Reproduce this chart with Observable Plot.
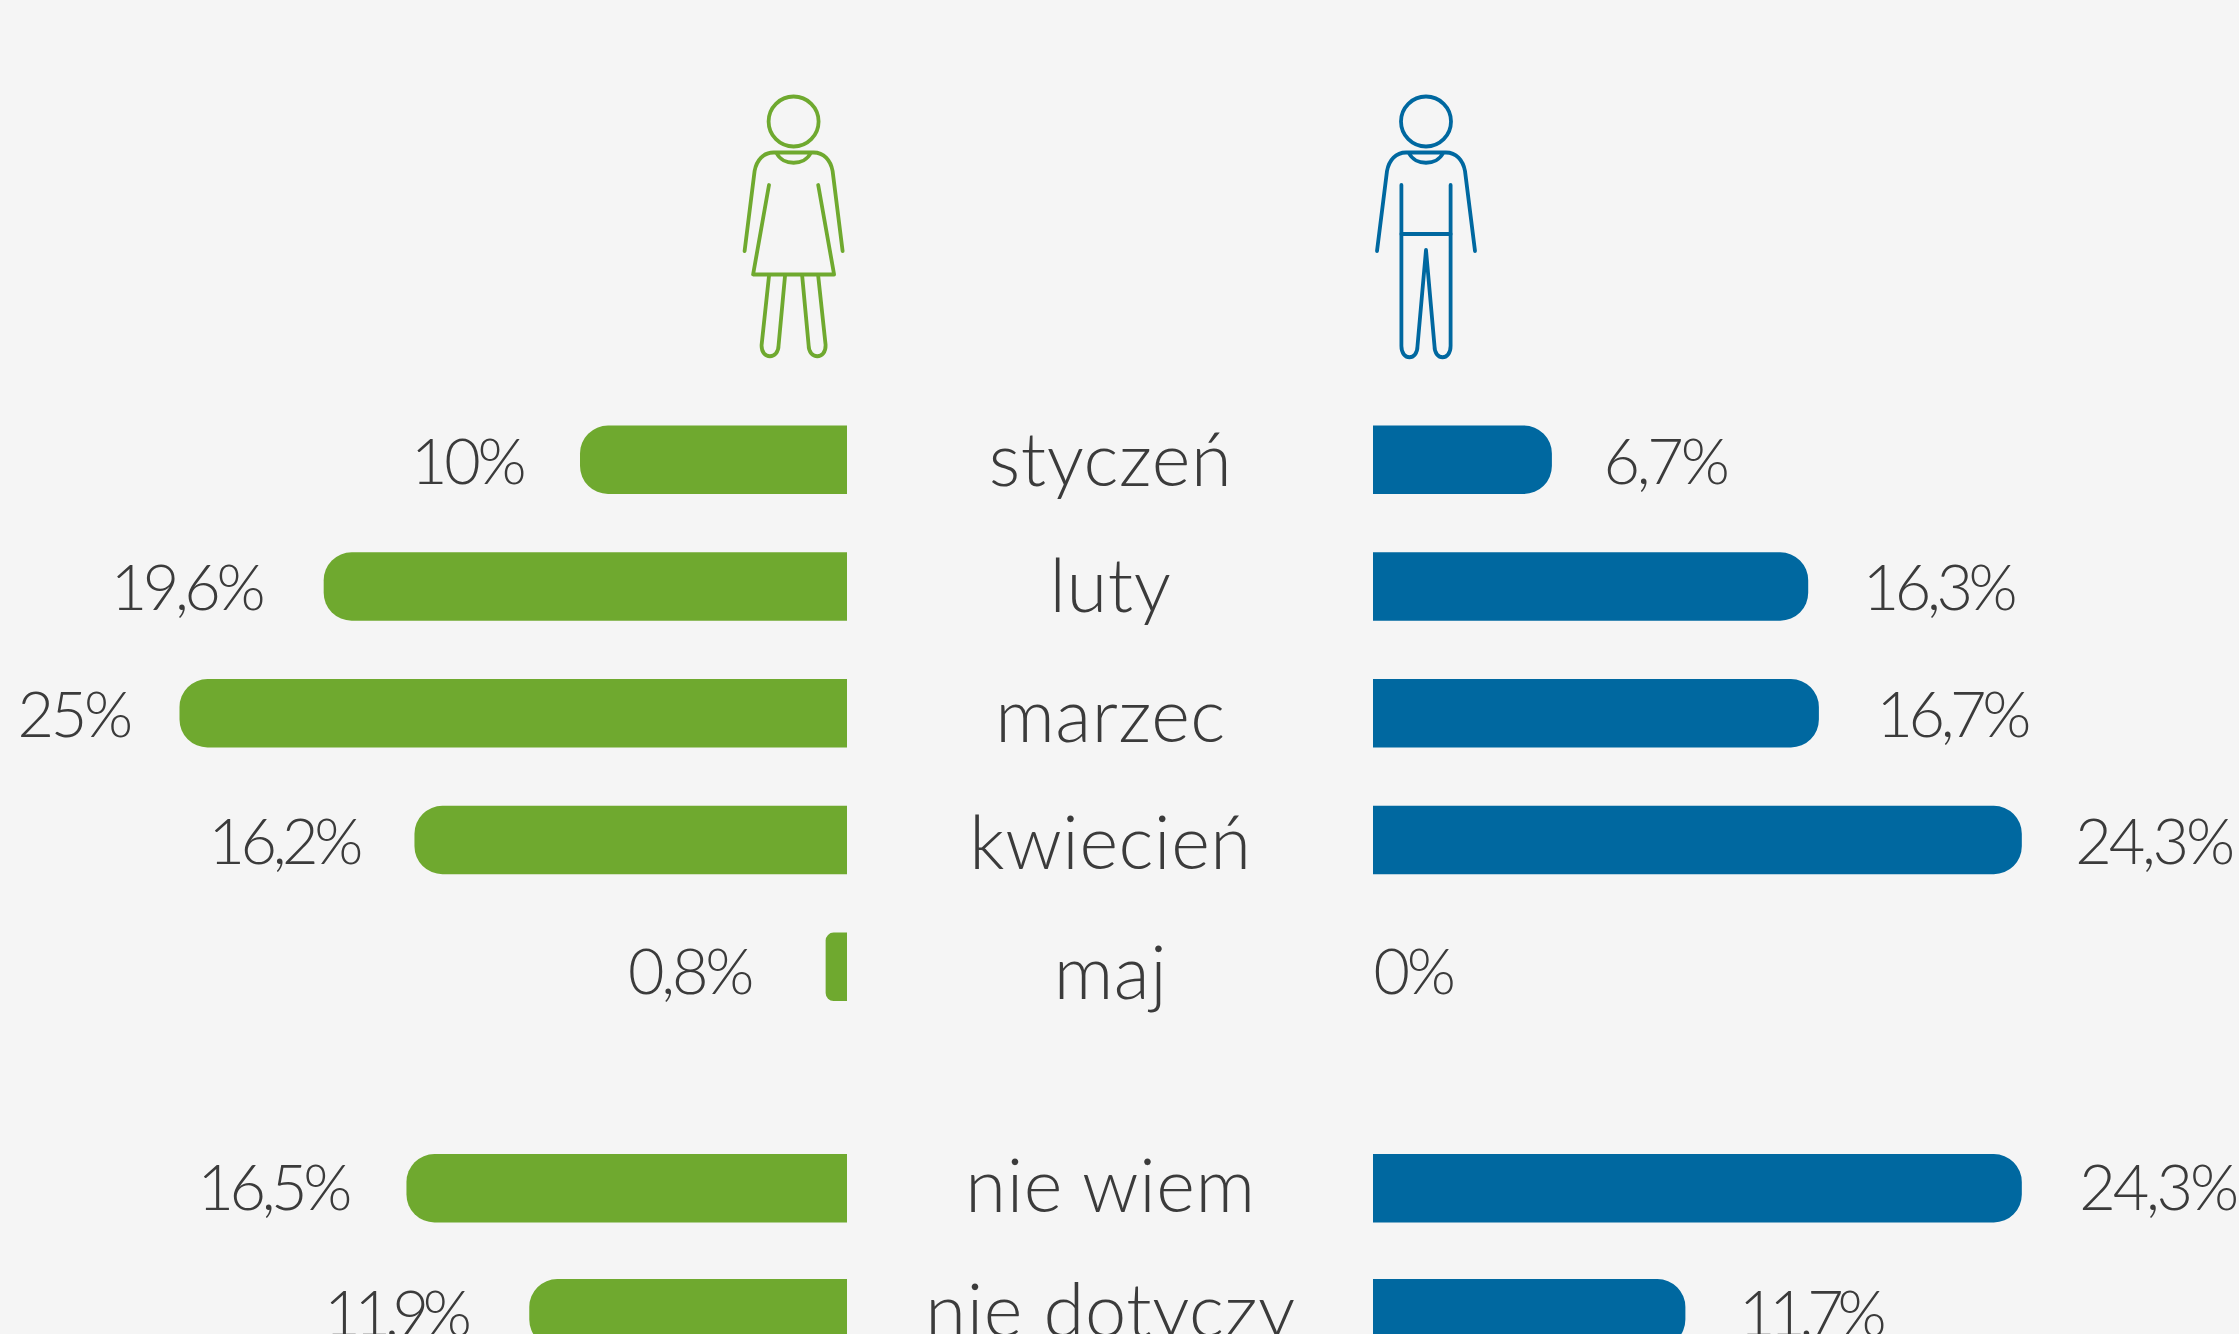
<!DOCTYPE html>
<html lang="pl">
<head>
<meta charset="utf-8">
<script src="https://cdn.jsdelivr.net/npm/d3@7"></script>
<script src="https://cdn.jsdelivr.net/npm/@observablehq/plot@0.6"></script>
<style>
html,body{margin:0;padding:0;background:#f5f5f5;overflow:hidden}
svg{display:block}
.num{letter-spacing:-3.2px}
.num.n1{letter-spacing:-4.4px}
.num.n2{letter-spacing:-6.2px}
.cat{letter-spacing:0.6px}
</style>
</head>
<body>
<div id="chart"></div>
<script>
const categories = ["styczeń","luty","marzec","kwiecień","maj","nie wiem","nie dotyczy"];
const women = [10,19.6,25,16.2,0.8,16.5,11.9];
const men = [6.7,16.3,16.7,24.3,0,24.3,11.7];

// layout of each row, in pixels (kept apart from the values)
const rowShift   = [0,0,0,0,0,94.75,93];
const cornerR    = [28,28,28,28,8,28,28];
const leftGap    = [57,63,50,56,75,59,64];
const rightGap   = [51,54,57,53,0,57,53];
const numNudge   = [4,3,3.5,3,7,1.5,2];
const catNudge   = [2.5,1,4.5,5,8,-0.5,0];

const table = categories.map((category,i)=>({category,women:women[i],men:men[i]}));
const green="#6fa92f", blue="#0068a0", ink="#3b3b3b";
const W=2239,H=1334,pxPerPct=26.7,leftEdge=847,gap=526;
const fmt=v=>String(v).replace(".",",")+"%";
const numClass=v=>{
  const s=fmt(v);
  if(s.length<5) return "num";
  const ones=s.split("1").length-1;
  return ones?`num n${ones}`:"num";
};
const font={fontFamily:"Lato, sans-serif",fontWeight:300};

function rowMarks(d,i){
  const rows=[d], dy=rowShift[i];
  return [
    Plot.barX(rows,{x1:d=>-d.women,x2:0,y:"category",fill:green,rx1:cornerR[i],dy}),
    Plot.barX(rows.filter(d=>d.men>0),{x1:0,x2:"men",y:"category",fill:blue,rx2:cornerR[i],dx:gap,dy}),
    Plot.text(rows,{x:d=>-d.women,y:"category",text:d=>fmt(d.women),textAnchor:"end",fontSize:63,fill:ink,dx:-leftGap[i],dy:dy+numNudge[i],className:numClass(d.women),...font}),
    Plot.text(rows,{x:"men",y:"category",text:d=>fmt(d.men),textAnchor:"start",fontSize:63,fill:ink,dx:gap+rightGap[i],dy:dy+numNudge[i],className:numClass(d.men),...font}),
    Plot.text(rows,{x:0,y:"category",text:"category",textAnchor:"middle",fontSize:74,fill:ink,dx:gap/2,dy:dy+catNudge[i],className:"cat",...font})
  ];
}

function person(cx,color,kind){
  const ns="http://www.w3.org/2000/svg";
  const g=document.createElementNS(ns,"g");
  g.setAttribute("transform",`translate(${cx},0)`);
  g.setAttribute("fill","none");g.setAttribute("stroke",color);g.setAttribute("stroke-width",3.8);
  g.setAttribute("stroke-linecap","round");g.setAttribute("stroke-linejoin","round");
  const common=[
    "M-25 121.5a25 25 0 1 0 50 0a25 25 0 1 0 -50 0",
    "M-49 251L-39 171C-37 160 -30 152.5 -20 152.5H20C30 152.5 37 160 39 171L49 251",
    "M-17 153C-11 166 11 166 17 153"
  ];
  const woman=[
    "M-24.6 185L-40.5 274.5H40.5L24.6 185",
    "M-24.5 275L-32 345C-32.5 360 -15 360 -15 345L-8.5 275",
    "M24.5 275L32 345C32.5 360 15 360 15 345L8.5 275"
  ];
  const man=[
    "M-24.6 185V346C-24.6 361 -8.5 361 -8.5 346L0 250L8.5 346C8.5 361 24.6 361 24.6 346V185",
    "M-24.6 234H24.6"
  ];
  for(const d of common.concat(kind==="woman"?woman:man)){
    const p=document.createElementNS(ns,"path");p.setAttribute("d",d);g.appendChild(p);
  }
  return g;
}
const icons=()=>{
  const ns="http://www.w3.org/2000/svg";
  const g=document.createElementNS(ns,"g");
  g.appendChild(person(793.6,green,"woman"));
  g.appendChild(person(1426,blue,"man"));
  return g;
};

const chart=Plot.plot({
  width:W,height:H,
  marginLeft:0,marginRight:0,marginTop:367.2,marginBottom:21.2,
  style:{background:"#f5f5f5"},
  x:{axis:null,domain:[-leftEdge/pxPerPct,(W-leftEdge)/pxPerPct],range:[0,W]},
  y:{axis:null,domain:categories,padding:0.46,round:false},
  marks:[
    ...table.flatMap(rowMarks),
    icons
  ]
});
document.getElementById("chart").appendChild(chart);
</script>
</body>
</html>
